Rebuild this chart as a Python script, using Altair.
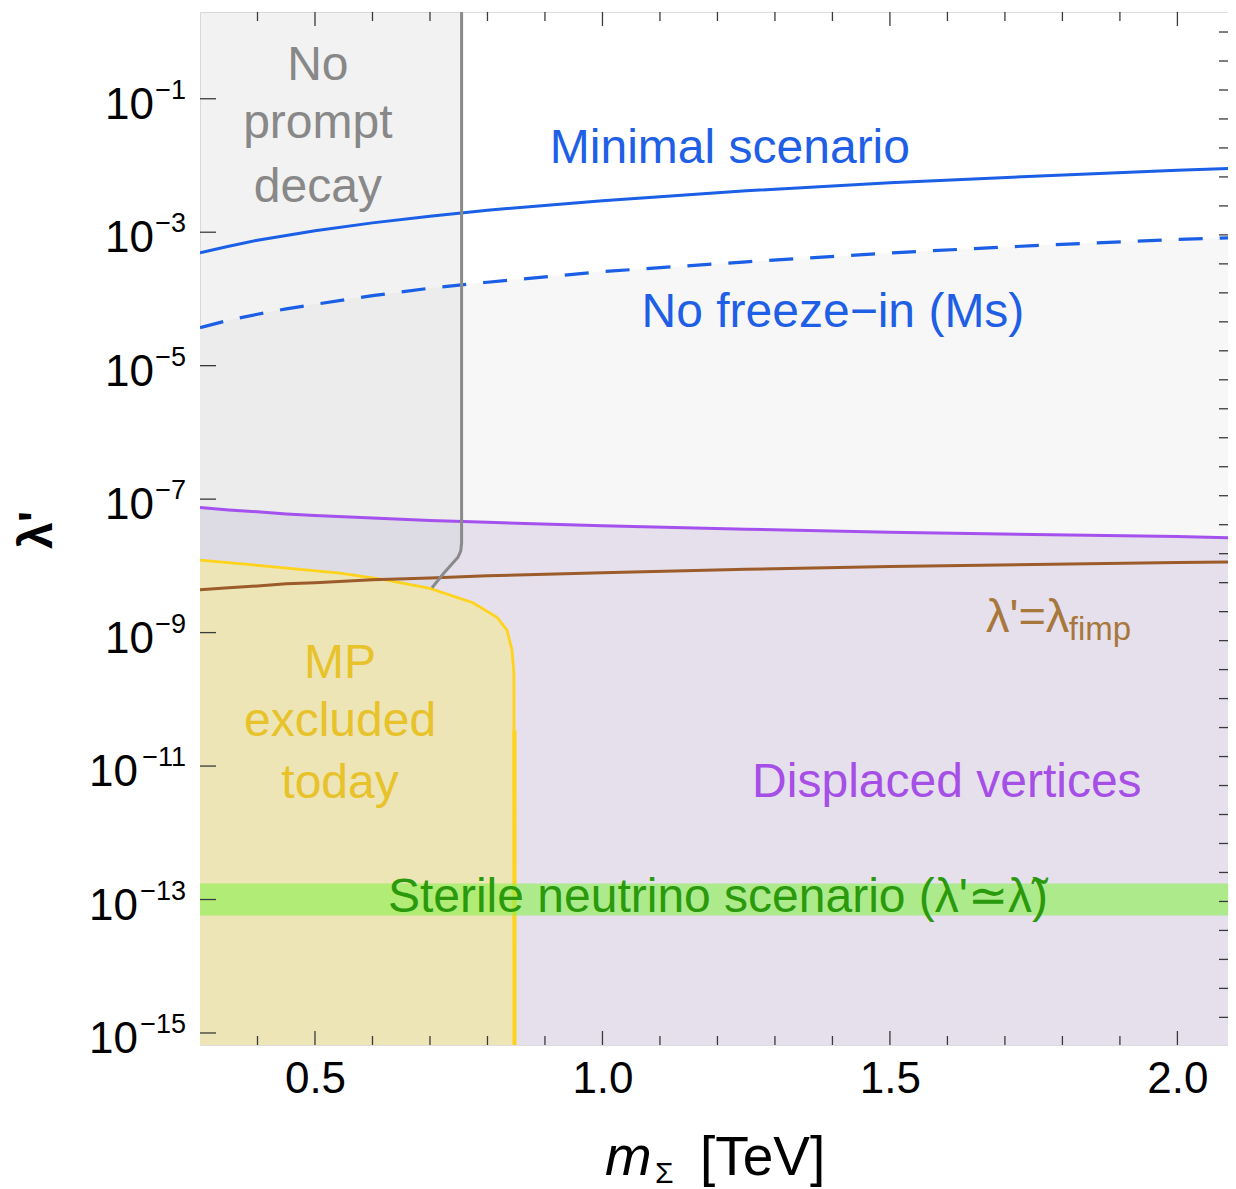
import math
import altair as alt
import pandas as pd

# ---------------- axes ranges ----------------
X_MIN, X_MAX = 0.3, 2.088
Y_MIN, Y_MAX = 10 ** -15.18, 10 ** 0.3
W, H = 1028, 1033

# ---------------- data ----------------
m_grid = [0.3, 0.35, 0.4, 0.45, 0.5, 0.6, 0.7, 0.8, 1.0, 1.25, 1.5, 1.75, 2.0, 2.1]
lam_minimal = [4.9e-4, 6.17e-4, 7.6e-4, 8.9e-4, 1.05e-3, 1.38e-3, 1.74e-3, 2.14e-3, 2.95e-3,
               4.17e-3, 5.5e-3, 6.9e-3, 8.5e-3, 9.1e-3]
lam_nofreeze = [3.7e-5, 4.8e-5, 5.9e-5, 7.1e-5, 8.3e-5, 1.12e-4, 1.45e-4, 1.78e-4, 2.57e-4,
                3.6e-4, 4.9e-4, 6.3e-4, 7.8e-4, 8.3e-4]
lam_displaced = [7.5e-8, 6.9e-8, 6.45e-8, 6.0e-8, 5.7e-8, 5.2e-8, 4.8e-8, 4.5e-8, 4.0e-8,
                 3.55e-8, 3.2e-8, 2.95e-8, 2.75e-8, 2.63e-8]
lam_fimp = [4.4e-9, 4.7e-9, 5.0e-9, 5.4e-9, 5.6e-9, 6.2e-9, 6.6e-9, 7.1e-9, 7.9e-9,
            8.9e-9, 9.8e-9, 1.05e-8, 1.12e-8, 1.15e-8]

mp_m = [0.3, 0.4, 0.5435, 0.62, 0.70, 0.7748, 0.8165, 0.834, 0.8426, 0.846, 0.847]
mp_lam = [1.22e-8, 1.02e-8, 7.8e-9, 6.2e-9, 4.6e-9, 2.8e-9, 1.7e-9, 1.09e-9, 5.5e-10, 2.45e-10, Y_MIN]
mp_edge_top = 3.4e-11

prompt_m = [0.7035, 0.7243, 0.7487, 0.7535, 0.755, 0.755]
prompt_lam = [4.7e-9, 7.8e-9, 1.35e-8, 1.66e-8, 2.2e-8, Y_MAX]

sterile_lo, sterile_hi = 5.75e-14, 1.74e-13

# tick positions
x_major = [0.5, 1.0, 1.5, 2.0]
x_minor = [0.4, 0.6, 0.7, 0.8, 0.9, 1.1, 1.2, 1.3, 1.4, 1.6, 1.7, 1.8, 1.9]
y_exps = [-1, -3, -5, -7, -9, -11, -13, -15]
right_ticks = [math.exp(-k) for k in range(0, 35)]

# annotation texts (text, m, lambda)
gray_labels = [("No", 0.505, 0.189), ("prompt", 0.505, 0.0256), ("decay", 0.505, 0.00281)]
blue_labels = [("Minimal scenario", 1.2217, 0.0108), ("No freeze\u2212in (Ms)", 1.4009, 3.78e-5)]
mp_labels = [("MP", 0.5435, 2.07e-10), ("excluded", 0.5435, 2.81e-11), ("today", 0.5435, 3.31e-12)]
purple_labels = [("Displaced vertices", 1.599, 3.43e-12)]
green_labels = [("Sterile neutrino scenario (\u03bb'\u2243\u03bb\u0303)", 1.2009, 6.5e-14)]
fimp_main = [("\u03bb'=\u03bb", 1.667, 1.016e-9)]
fimp_sub = [("fimp", 1.811, 7.7e-10)]

FONT = "Liberation Sans"

# ---------------- frames ----------------
curves = pd.DataFrame({
    "m": m_grid, "minimal": lam_minimal, "nofreeze": lam_nofreeze,
    "displaced": lam_displaced, "fimp": lam_fimp,
})
mp = pd.DataFrame({"m": mp_m, "lam": mp_lam, "i": list(range(len(mp_m)))})
prompt = pd.DataFrame({"m": prompt_m, "lam": prompt_lam, "i": list(range(len(prompt_m)))})
band = pd.DataFrame({"lam": [sterile_lo], "lam2": [sterile_hi]})

sx = alt.Scale(domain=[X_MIN, X_MAX], nice=False, zero=False)
sy = alt.Scale(type="log", domain=[Y_MIN, Y_MAX], nice=False)
x_axis = alt.Axis(values=x_major, format=".1f", labelFontSize=44, labelFont=FONT,
                  labelColor="#000", ticks=False, tickSize=0, domain=False, grid=False,
                  labelPadding=12, title=None, labelFlush=False)


def X(field="m"):
    return alt.X(f"{field}:Q", scale=sx, axis=x_axis)


def Y(field="lam"):
    return alt.Y(f"{field}:Q", scale=sy, axis=None)


# ---------------- regions ----------------
reg_nofreeze = alt.Chart(curves).mark_area(color="#f7f7f7", clip=True).encode(
    x=X(), y=Y("nofreeze"), y2=alt.datum(Y_MIN))
reg_displaced = alt.Chart(curves).mark_area(color="#e5e0ec", clip=True).encode(
    x=X(), y=Y("displaced"), y2=alt.datum(Y_MIN))
reg_prompt = alt.Chart(prompt).mark_area(orient="horizontal", color="#c7cac7", opacity=0.25, clip=True).encode(
    y=Y(), x=X(), x2=alt.datum(X_MIN))
reg_mp = alt.Chart(mp).mark_area(color="#ede5b5", clip=True).encode(
    x=X(), y=Y(), y2=alt.datum(Y_MIN))

# ---------------- lines ----------------
line_mp = alt.Chart(mp).mark_line(color="#ffd21c", strokeWidth=2.8, clip=True).encode(
    x=X(), y=Y(), order="i:Q")
rule_mp = alt.Chart(pd.DataFrame({"m": [mp_m[-1]], "lam": [mp_edge_top]})).mark_rule(
    color="#ffd21c", strokeWidth=4, clip=True).encode(x=X(), y=Y(), y2=alt.datum(Y_MIN))
band_rect = alt.Chart(band).mark_rect(color="#87f04c", opacity=0.6, clip=True).encode(
    x=alt.datum(X_MIN), x2=alt.datum(X_MAX), y=Y("lam"), y2="lam2:Q")
line_nofreeze = alt.Chart(curves).mark_line(color="#1a5fe6", strokeWidth=3.2, strokeDash=[24, 17], clip=True).encode(
    x=X(), y=Y("nofreeze"))
line_minimal = alt.Chart(curves).mark_line(color="#1a5fe6", strokeWidth=3, clip=True).encode(
    x=X(), y=Y("minimal"))
line_displaced = alt.Chart(curves).mark_line(color="#a451ee", strokeWidth=3, clip=True).encode(
    x=X(), y=Y("displaced"))
line_fimp = alt.Chart(curves).mark_line(color="#9c5b2a", strokeWidth=3, clip=True).encode(
    x=X(), y=Y("fimp"))
line_prompt = alt.Chart(prompt).mark_line(color="#8a8a8a", strokeWidth=3, clip=True).encode(
    x=X(), y=Y(), order="i:Q")

# ---------------- ticks ----------------
TICK = "#3a3a3a"
xt_major = pd.DataFrame({"m": x_major})
xt_minor = pd.DataFrame({"m": x_minor})
ticks = []
for df, ln in ((xt_major, 14), (xt_minor, 9)):
    ticks.append(alt.Chart(df).mark_rule(color=TICK, strokeWidth=1.3).encode(
        x=X(), y=alt.value(H), y2=alt.value(H - ln)))
    ticks.append(alt.Chart(df).mark_rule(color=TICK, strokeWidth=1.3).encode(
        x=X(), y=alt.value(0), y2=alt.value(ln)))
ylab = pd.DataFrame({
    "lam": [10.0 ** e for e in y_exps],
    "exp": ["\u2212" + str(-e) for e in y_exps],
    "nd": [len(str(-e)) for e in y_exps],
})
ticks.append(alt.Chart(ylab).mark_rule(color=TICK, strokeWidth=1.3).encode(
    y=Y(), x=alt.value(0), x2=alt.value(16)))
ticks.append(alt.Chart(pd.DataFrame({"lam": right_ticks})).mark_rule(color=TICK, strokeWidth=1.3, clip=True).encode(
    y=Y(), x=alt.value(W - 9), x2=alt.value(W)))

# y tick labels 10^-n
ylabels = [
    alt.Chart(ylab).mark_text(align="right", baseline="alphabetic", fontSize=27, font=FONT, color="#000").encode(
        x=alt.value(-14), y=Y(), text="exp:N"),
    alt.Chart(ylab).transform_filter("datum.nd == 1").mark_text(
        text="10", align="right", baseline="alphabetic", fontSize=44, font=FONT, color="#000", dy=20).encode(
        x=alt.value(-46), y=Y()),
    alt.Chart(ylab).transform_filter("datum.nd == 2").mark_text(
        text="10", align="right", baseline="alphabetic", fontSize=44, font=FONT, color="#000", dy=20).encode(
        x=alt.value(-62), y=Y()),
]


# ---------------- annotations ----------------
def labels(items, color, size=48, align="center"):
    df = pd.DataFrame(items, columns=["t", "m", "lam"])
    return alt.Chart(df).mark_text(align=align, baseline="alphabetic", fontSize=size, font=FONT,
                                   color=color).encode(x=X(), y=Y(), text="t:N")


annos = [
    labels(gray_labels, "#888888"),
    labels(blue_labels, "#1f5fe6"),
    labels(mp_labels, "#e8c22a"),
    labels(purple_labels, "#a64fe6"),
    labels(green_labels, "#2a9a0c"),
    labels(fimp_main, "#a8773c", 47, "left"),
    labels(fimp_sub, "#a8773c", 33, "left"),
]

# ---------------- axis titles ----------------
one = pd.DataFrame({"t": [""]})
titles = [
    alt.Chart(one).mark_text(text="\u03bb'", angle=270, align="center", baseline="middle", fontSize=48,
                             fontWeight="bold", font=FONT, color="#000").encode(
        x=alt.value(-162), y=alt.value(518)),
    alt.Chart(one).mark_text(text="m", align="left", baseline="alphabetic", fontSize=56, fontStyle="italic",
                             font=FONT, color="#000").encode(x=alt.value(405), y=alt.value(1163)),
    alt.Chart(one).mark_text(text="\u03a3", align="left", baseline="alphabetic", fontSize=30,
                             font=FONT, color="#000").encode(x=alt.value(455), y=alt.value(1171)),
    alt.Chart(one).mark_text(text="[TeV]", align="left", baseline="alphabetic", fontSize=55,
                             font=FONT, color="#000").encode(x=alt.value(500), y=alt.value(1163)),
]

chart = alt.layer(
    reg_nofreeze, reg_displaced, reg_prompt, reg_mp,
    line_mp, rule_mp, band_rect,
    line_nofreeze, line_minimal, line_displaced, line_fimp, line_prompt,
    *ticks, *ylabels, *annos, *titles,
).properties(
    width=W, height=H,
    autosize=alt.AutoSizeParams(type="none"),
    padding={"left": 192, "top": 4, "right": 0, "bottom": 150},
).configure_view(stroke="#3a3a3a", strokeWidth=1.5).configure(background="white")

chart.save("out.html", embed_options={"renderer": "svg", "actions": False})
